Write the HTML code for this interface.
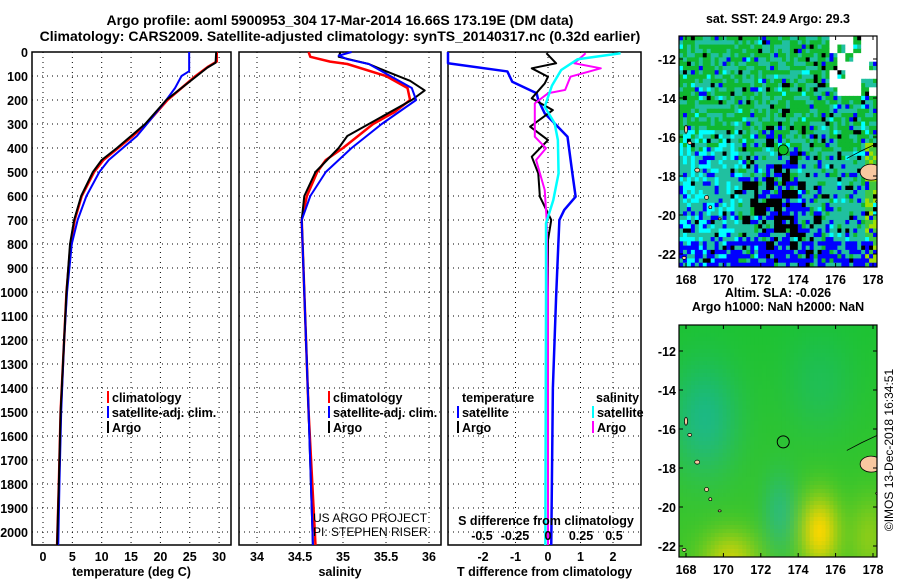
<!DOCTYPE html>
<html><head><meta charset="utf-8"><style>
body{margin:0;background:#fff;}
svg{display:block;font-family:"Liberation Sans",sans-serif;}
.t{font-weight:bold;font-size:14px;}
.k{font-weight:bold;font-size:12.5px;}
.g{stroke:#000;stroke-width:1;stroke-dasharray:1,4;}
</style></head><body>
<svg id="c" width="900" height="580" viewBox="0 0 900 580"></svg>
<script>
// ---------- data ----------
const depthTicks=[0,100,200,300,400,500,600,700,800,900,1000,1100,1200,1300,1400,1500,1600,1700,1800,1900,2000];
const tTicks=[0,5,10,15,20,25,30];
const sTicks=[34,34.5,35,35.5,36];
const dTTicks=[-2,-1,0,1,2];
const dSTicks=[-0.5,-0.25,0,0.25,0.5];
const dSTickLabels=["-0.5","-0.25","0","0.25","0.5"];
// temperature profiles [depth, value]
const tClim=[[0,29.6],[40,29.6],[60,28.2],[100,26],[200,21.2],[300,17.6],[350,15.3],[400,12.8],[450,10.3],[500,8.7],[600,6.6],[700,5.4],[800,4.7],[1000,4.0],[1200,3.6],[1500,3.0],[1800,2.7],[2054,2.4]];
const tArgo=[[0,29.5],[45,29.4],[65,28],[100,26.2],[200,21],[300,17.4],[350,15],[400,12.6],[450,10],[500,8.5],[600,6.5],[700,5.3],[800,4.6],[1000,4.0],[1200,3.6],[1500,3.0],[1800,2.7],[2054,2.4]];
const tSat=[[0,24.9],[80,24.9],[100,23.6],[150,22.5],[200,21],[300,17.7],[350,16],[400,13.6],[450,11.2],[500,9.6],[600,7.4],[700,5.9],[800,4.9],[1000,4.1],[1200,3.6],[1500,3.1],[1800,2.8],[2054,2.6]];
// salinity profiles
const sClim=[[0,34.6],[20,34.62],[40,34.85],[50,35.05],[100,35.5],[150,35.75],[200,35.78],[250,35.6],[300,35.35],[400,35.0],[450,34.8],[500,34.7],[600,34.58],[700,34.52],[800,34.53],[1000,34.55],[1500,34.6],[2054,34.68]];
const sArgo=[[0,34.97],[20,34.95],[50,35.3],[80,35.5],[120,35.78],[160,35.95],[200,35.8],[300,35.3],[350,35.05],[400,34.95],[500,34.68],[600,34.55],[700,34.52],[800,34.53],[1000,34.55],[1500,34.6],[2054,34.65]];
const sSat=[[0,35.1],[15,34.95],[30,35.05],[50,35.3],[100,35.55],[150,35.8],[200,35.85],[300,35.45],[400,35.1],[500,34.8],[600,34.62],[700,34.52],[800,34.53],[1000,34.55],[1500,34.6],[2054,34.65]];
// differences from climatology
const dTSat=[[0,-3.1],[47,-3.1],[81,-1.25],[124,-1.1],[172,-0.35],[200,-0.3],[256,-0.1],[297,0.2],[353,0.6],[506,0.75],[603,0.85],[658,0.5],[700,0.35],[922,0.28],[1019,0.25],[1400,0.15],[2054,0.1]];
const dTArgo=[[5,-0.05],[47,0.25],[68,-0.5],[103,0],[131,-0.1],[193,-0.5],[242,0.15],[311,-0.55],[367,0],[436,-0.5],[506,-0.3],[603,-0.25],[700,0.1],[783,0],[1200,0],[2054,0]];
const dSArgo=[[5,0.285],[47,0.2],[68,0.4],[103,0.17],[158,0.13],[172,0],[214,-0.1],[353,-0.1],[401,-0.015],[450,-0.09],[575,-0.025],[700,-0.01],[1000,0],[2054,0]];
const dSSat=[[5,0.55],[30,0.225],[75,0.1],[140,0.03],[228,-0.025],[297,0.05],[367,0.075],[506,0.08],[617,0.04],[714,-0.015],[1000,-0.015],[2054,-0.02]];

const svg=document.getElementById('c');const NS='http://www.w3.org/2000/svg';
function mk(tag,at,parent,txt){const e=document.createElementNS(NS,tag);for(const k in at)e.setAttribute(k,at[k]);if(txt!==undefined)e.textContent=txt;(parent||svg).appendChild(e);return e;}
const Y=d=>52+d*0.24;const TOP=52,BOT=545;
const xT=v=>43+v*5.87;
const xS=v=>257+(v-34)*86;
const xD=v=>548+v*32.5;
const xDS=v=>548+v*132;

let e;
e=mk('text',{x:340,y:25,'text-anchor':'middle',class:'t'},svg,'Argo profile: aoml 5900953_304 17-Mar-2014 16.66S 173.19E (DM data)');

e=mk('text',{x:340,y:41,'text-anchor':'middle',class:'t'},svg,'Climatology: CARS2009. Satellite-adjusted climatology: synTS_20140317.nc (0.32d earlier)');


function panel(name,x0,x1,xf,ticks,labels,title){
  const g=mk('g',{});
  depthTicks.forEach(d=>{mk('line',{x1:x0,x2:x1,y1:Y(d),y2:Y(d),class:'g'},g);});
  ticks.forEach((t,i)=>{mk('line',{x1:xf(t),x2:xf(t),y1:TOP,y2:BOT,class:'g'},g);
    const l=mk('text',{x:xf(t),y:561,'text-anchor':'middle',class:'k'},g,labels[i]);
    });
  mk('rect',{x:x0,y:TOP,width:x1-x0,height:BOT-TOP,fill:'none',stroke:'#000','stroke-width':1.5},g);
  const tt=mk('text',{x:(x0+x1)/2,y:576,'text-anchor':'middle',class:'k'},g,title);
  
  return g;
}
panel('temperature-panel',32,231,xT,tTicks,tTicks.map(String),'temperature (deg C)');
panel('salinity-panel',239,441,xS,sTicks,sTicks.map(String),'salinity');
panel('difference-panel',448,641,xD,dTTicks,dTTicks.map(String),'T difference from climatology');
depthTicks.forEach(d=>{const l=mk('text',{x:28,y:Y(d)+5,'text-anchor':'end',class:'k'},svg,String(d));
  });

function line(arr,xf,col,w,name,x0,x1){
  const pts=arr.map(p=>[Math.max(x0,Math.min(x1,xf(p[1]))),Y(p[0])]);
  const l=mk('polyline',{points:pts.map(p=>p.join(',')).join(' '),fill:'none',stroke:col,'stroke-width':w,'stroke-linejoin':'round'});
  
}
line(tClim,xT,'#f00',2.5,'temperature-climatology-line',32,231);
line(tSat,xT,'#00f',2,'temperature-satellite-line',32,231);
line(tArgo,xT,'#000',2,'temperature-argo-line',32,231);
line(sClim,xS,'#f00',2.5,'salinity-climatology-line',239,441);
line(sArgo,xS,'#000',2,'salinity-argo-line',239,441);
line(sSat,xS,'#00f',2,'salinity-satellite-line',239,441);
line(dTSat,xD,'#00f',2.5,'t-diff-satellite-line',448,641);
line(dTArgo,xD,'#000',2,'t-diff-argo-line',448,641);
line(dSArgo,xDS,'#f0f',2,'s-diff-argo-line',448,641);
line(dSSat,xDS,'#0ff',2.5,'s-diff-satellite-line',448,641);

function legend(x,y,items){
  items.forEach((it,i)=>{
    const g=mk('g',{});
    mk('rect',{x:x,y:y+i*15-11,width:2,height:12,fill:it[1]},g);
    mk('text',{x:x+5,y:y+i*15,class:'k'},g,it[0]);
  });
}
legend(107,402,[['climatology','#f00'],['satellite-adj. clim.','#00f'],['Argo','#000']]);
legend(328,402,[['climatology','#f00'],['satellite-adj. clim.','#00f'],['Argo','#000']]);
e=mk('text',{x:462,y:402,class:'k'},svg,'temperature');
e=mk('text',{x:596,y:402,class:'k'},svg,'salinity');
legend(457,417,[['satellite','#00f'],['Argo','#000']]);
legend(592,417,[['satellite','#0ff'],['Argo','#f0f']]);
e=mk('text',{x:313,y:522,'font-size':'12'},svg,'US ARGO PROJECT');
e=mk('text',{x:313,y:536,'font-size':'12'},svg,'PI: STEPHEN RISER');
e=mk('text',{x:546,y:525,'text-anchor':'middle',class:'k'},svg,'S difference from climatology');
dSTicks.forEach((t,i)=>{const l=mk('text',{x:xDS(t),y:540,'text-anchor':'middle',class:'k'},svg,dSTickLabels[i]);
  });

// ---------- maps ----------
const lonTicks=[168,170,172,174,176,178];
const latTicks=[-12,-14,-16,-18,-20,-22];
const MX0=679,MX1=877;
const mLon=v=>686+(v-168)*18.7;
function hash(i,j,s){let h=(i*374761393+j*668265263+s*1442695041)|0;h=(h^(h>>>13))*1274126177|0;return ((h^(h>>>16))>>>0)/4294967296;}
let clipN=0;
function mapFrame(name,y0,y1,latY,title1,title2,fill){
  const g=mk('g',{});
  const id='clip'+(clipN++);
  const cp=mk('clipPath',{id:id},g);mk('rect',{x:MX0,y:y0,width:MX1-MX0,height:y1-y0},cp);
  const inner=mk('g',{'clip-path':`url(#${id})`},g);
  fill(inner);
  mk('rect',{x:MX0,y:y0,width:MX1-MX0,height:y1-y0,fill:'none',stroke:'#000','stroke-width':1.2},g);
  lonTicks.forEach(t=>{mk('line',{x1:mLon(t),x2:mLon(t),y1:y0,y2:y0+4,stroke:'#000'},g);mk('line',{x1:mLon(t),x2:mLon(t),y1:y1,y2:y1-4,stroke:'#000'},g);
    const l=mk('text',{x:mLon(t),y:y1+17,'text-anchor':'middle',class:'k'},g,String(t));});
  latTicks.forEach(t=>{mk('line',{x1:MX0,x2:MX0+4,y1:latY(t),y2:latY(t),stroke:'#000'},g);mk('line',{x1:MX1,x2:MX1-4,y1:latY(t),y2:latY(t),stroke:'#000'},g);
    const l=mk('text',{x:676,y:latY(t)+5,'text-anchor':'end',class:'k'},g,String(t));});
  let tt=mk('text',{x:778,y:title2?y0-28:y0-13,'text-anchor':'middle',class:'k'},g,title1);
  if(title2){tt=mk('text',{x:778,y:y0-14,'text-anchor':'middle',class:'k'},g,title2);}
  return g;
}
function islands(g,latY){
  [[168.0,-15.6,1.5,4],[168.2,-16.3,2,1.5],[168.6,-17.7,2.5,2],[169.1,-19.1,2,2],[169.3,-19.6,1.5,1.5],[169.8,-20.2,1.5,1],[167.9,-22.2,2,1.5]].forEach(p=>{
    mk('ellipse',{cx:mLon(p[0]),cy:latY(p[1]),rx:p[2],ry:p[3],fill:'#f8c8a0',stroke:'#000','stroke-width':0.7},g);});
  mk('ellipse',{cx:mLon(177.9),cy:latY(-17.8),rx:11,ry:8,fill:'#f8c8a0',stroke:'#000','stroke-width':0.8},g);
  mk('ellipse',{cx:mLon(178.3),cy:latY(-19.3),rx:3,ry:1.5,fill:'#f8c8a0',stroke:'#000','stroke-width':0.7},g);
  mk('path',{d:`M${mLon(176.6)} ${latY(-17.1)} L${mLon(177.4)} ${latY(-16.7)} L${mLon(178.5)} ${latY(-16.2)}`,fill:'none',stroke:'#000','stroke-width':0.8},g);
}
// top SST map
const ty0=36,ty1=267,tLat=v=>59+(-12-v)*19.5;
mapFrame('sst-map',ty0,ty1,tLat,'sat. SST: 24.9 Argo: 29.3',null,g=>{
  const C=50,R=54,cw=(MX1-MX0)/C,ch=(ty1-ty0)/R;
  for(let j=0;j<R;j++)for(let i=0;i<C;i++){
    const u=i/C,v=j/R,r=hash(i,j,1),r2=hash(i,j,7),r3=hash(i>>1,j>>1,3);
    let col;
    const dark=Math.exp(-((u-0.5)**2/0.015+(v-0.72)**2/0.025));
    const lowBlue=v>0.88?0.45:0;
    if(u>0.74&&v<0.25&&r3<0.7) col='#fff';
    else if(r3<dark*0.7) col='#000';
    else if(r<0.04) col='#000';
    else if(r<dark*0.5+lowBlue+0.08+v*0.1) col='#0000ff';
    else if(u<0.3&&v>0.4&&r2<0.35) col='#00ffff';
    else if(r2<0.05) col='#00ffff';
    else if(u>0.92&&v>0.45) col=r2<0.5?'#a0e000':'#40c840';
    else if(v<0.5&&r2<0.6) col=r2<0.05?'#c8f000':'#10b830';
    else if(r2<0.25) col='#10b830';
    else col='#20c0a0';
    mk('rect',{x:MX0+i*cw,y:ty0+j*ch,width:cw+0.4,height:ch+0.4,fill:col},g);
  }
  islands(g,tLat);
  mk('circle',{cx:mLon(173.2),cy:tLat(-16.66),r:5,fill:'#10c020',stroke:'#000','stroke-width':0.8},g);
});
// bottom SLA map
const by0=325,by1=557,bLat=v=>351+(-12-v)*19.5;
mapFrame('sla-map',by0,by1,bLat,'Altim. SLA: -0.026','Argo h1000: NaN h2000: NaN',g=>{
  const C=50,R=58,cw=(MX1-MX0)/C,ch=(by1-by0)/R;
  for(let j=0;j<R;j++)for(let i=0;i<C;i++){
    const u=i/C,v=j/R;
    const teal=0.7*Math.exp(-((u-0.12)**2/0.03+(v-0.4)**2/0.06))+0.6*Math.exp(-((u-0.5)**2/0.008+(v-0.8)**2/0.03))+0.3*Math.exp(-((u-0.7)**2/0.03+(v-0.25)**2/0.05));
    const yel=0.85*Math.exp(-((u-0.7)**2/0.01+(v-0.88)**2/0.025))+0.6*Math.exp(-((u-0.25)**2/0.02+(v-1.0)**2/0.015))+0.35*Math.exp(-((u-0.95)**2/0.01+(v-0.9)**2/0.03))+0.15*v;
    let rr=30+yel*220-teal*20,gg=195+yel*20-teal*15,bb=50+teal*120-yel*50;
    rr=Math.max(0,Math.min(255,rr));gg=Math.max(0,Math.min(255,gg));bb=Math.max(0,Math.min(255,bb));
    mk('rect',{x:MX0+i*cw,y:by0+j*ch,width:cw+0.4,height:ch+0.4,fill:`rgb(${rr|0},${gg|0},${bb|0})`},g);
  }
  islands(g,bLat);
  mk('circle',{cx:mLon(173.2),cy:bLat(-16.66),r:6,fill:'none',stroke:'#000','stroke-width':1},g);
});
e=mk('text',{x:893,y:450,'text-anchor':'middle','font-size':'12',transform:'rotate(-90 893 450)'},svg,'©IMOS 13-Dec-2018 16:34:51');

</script>
</body></html>
